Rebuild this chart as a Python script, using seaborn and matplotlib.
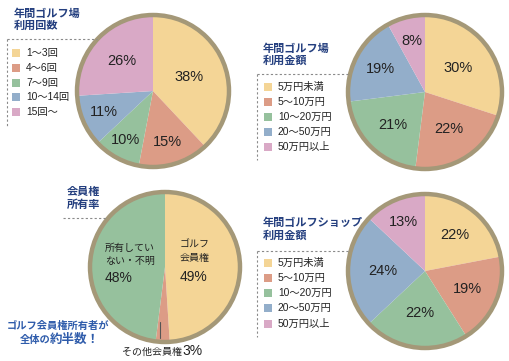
import numpy as np
import matplotlib
matplotlib.use("Agg")
import matplotlib.pyplot as plt
import seaborn as sns
from matplotlib.patches import Circle, Rectangle

sns.set_theme(style="white")
plt.rcParams['font.family'] = ['Liberation Sans', 'Noto Sans CJK JP', 'DejaVu Sans']

# --- data ---
freq_title = "年間ゴルフ場\n利用回数"
freq_labels = ["1〜3回", "4〜6回", "7〜9回", "10〜14回", "15回〜"]
freq_values = [38, 15, 10, 11, 26]

course_title = "年間ゴルフ場\n利用金額"
course_labels = ["5万円未満", "5〜10万円", "10〜20万円", "20〜50万円", "50万円以上"]
course_values = [30, 22, 21, 19, 8]

member_title = "会員権\n所有率"
member_labels = ["ゴルフ\n会員権", "その他会員権", "所有してい\nない・不明"]
member_values = [49, 3, 48]

shop_title = "年間ゴルフショップ\n利用金額"
shop_labels = ["5万円未満", "5〜10万円", "10〜20万円", "20〜50万円", "50万円以上"]
shop_values = [22, 19, 22, 24, 13]

palette = ["#f4d596", "#dc9c86", "#96c19d", "#93aeca", "#d9a9c6"]
navy = "#243f7f"
blue = "#2f5cab"
rim = "#a49878"
dash = "#8a8a8a"

W, H = 510, 361


def Y(y):
    # pixel row -> data y
    return H - y


def draw_pie(ax, values, colors, cx, cy, r, dists, show_pct=True):
    wedges, _ = ax.pie(values, colors=colors, startangle=90, counterclock=False,
                       center=(cx, Y(cy)), radius=r,
                       wedgeprops=dict(linewidth=0))
    if show_pct:
        for w, v, d in zip(wedges, values, dists):
            mid = np.deg2rad((w.theta1 + w.theta2) / 2)
            ax.text(cx + d * r * np.cos(mid), Y(cy) + d * r * np.sin(mid), f"{v}%",
                    ha='center', va='center', fontsize=10.5, color="#222222")
    ax.add_patch(Circle((cx, Y(cy)), r, fill=False, edgecolor=rim, linewidth=3.2))
    return wedges


def draw_legend(ax, labels, colors, x, rows):
    for lab, c, yy in zip(labels, colors, rows):
        ax.add_patch(Rectangle((x, Y(yy) - 4), 8, 8, facecolor=c, edgecolor='none'))
        ax.text(x + 14, Y(yy), lab, ha='left', va='center', fontsize=7.4, color="#222222")


def dashed(ax, xs, ys):
    ax.plot(xs, [Y(v) for v in ys], color=dash, linestyle=(0, (2, 2)), linewidth=0.8)


fig = plt.figure(figsize=(5.1, 3.61), dpi=100)
ax = fig.add_axes([0, 0, 1, 1])

# 1: frequency
draw_pie(ax, freq_values, palette, 153, 91, 76, [0.51, 0.7, 0.74, 0.7, 0.57])
ax.text(14, Y(8), freq_title, ha='left', va='top', fontsize=8, fontweight='bold',
        color=navy, linespacing=1.25)
dashed(ax, [7, 97], [39, 39])
dashed(ax, [7, 7], [39, 126])
draw_legend(ax, freq_labels, palette, 12, [53, 68, 83, 97, 112])

# 2: course spending
draw_pie(ax, course_values, palette, 425, 92, 77, [0.53, 0.57, 0.6, 0.65, 0.68])
ax.text(263, Y(43), course_title, ha='left', va='top', fontsize=8, fontweight='bold',
        color=navy, linespacing=1.25)
dashed(ax, [257, 348], [74, 74])
dashed(ax, [257, 257], [74, 160])
draw_legend(ax, course_labels, palette, 264, [87, 102, 117, 132, 147])

# 3: membership
mem_colors = [palette[0], palette[1], palette[2]]
draw_pie(ax, member_values, mem_colors, 165, 267, 75, None, show_pct=False)
ax.text(180, Y(240), member_labels[0], ha='left', va='top', fontsize=7.2,
        color="#222222", linespacing=1.35)
ax.text(180, Y(277), f"{member_values[0]}%", ha='left', va='center', fontsize=10,
        color="#222222")
ax.text(105, Y(243), member_labels[2], ha='left', va='top', fontsize=7.2,
        color="#222222", linespacing=1.35)
ax.text(105, Y(278), f"{member_values[2]}%", ha='left', va='center', fontsize=10,
        color="#222222")
ax.plot([160, 160], [Y(322), Y(338)], color="#555555", linewidth=0.8)
ax.text(182, Y(352), member_labels[1], ha='right', va='center', fontsize=7.2, color="#222222")
ax.text(182, Y(351), f"{member_values[1]}%", ha='left', va='center', fontsize=10,
        color="#222222")
ax.text(100, Y(187), member_title, ha='right', va='top', fontsize=8, fontweight='bold',
        color=navy, linespacing=1.25)
dashed(ax, [63, 107], [218, 218])
ax.text(58, Y(326), "ゴルフ会員権所有者が", ha='center', va='center', fontsize=7.4,
        color=blue, fontweight='bold')
ax.text(51, Y(340), "全体の", ha='right', va='center', fontsize=7.4, color=blue,
        fontweight='bold')
ax.text(50, Y(340), "約半数！", ha='left', va='center', fontsize=9, color=blue,
        fontweight='bold')

# 4: shop spending
draw_pie(ax, shop_values, palette, 425, 271, 77, [0.61, 0.6, 0.55, 0.55, 0.69])
ax.text(263, Y(218), shop_title, ha='left', va='top', fontsize=8, fontweight='bold',
        color=navy, linespacing=1.25)
dashed(ax, [257, 348], [251, 251])
dashed(ax, [257, 257], [251, 337])
draw_legend(ax, shop_labels, palette, 264, [263, 278, 293, 308, 324])

ax.set_xlim(0, W)
ax.set_ylim(0, H)
ax.set_aspect('equal')
ax.axis('off')

fig.savefig("out.png", dpi=100)
